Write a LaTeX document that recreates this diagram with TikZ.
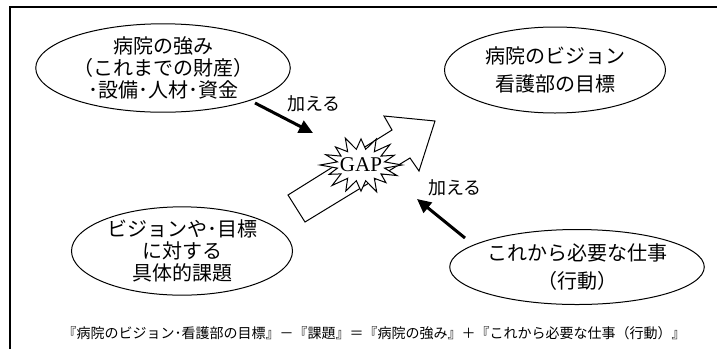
\documentclass[tikz,border=0pt]{standalone}
\usepackage{fontspec}
\setmainfont{Liberation Serif}
\newfontfamily\jp{Noto Sans CJK JP}
\usetikzlibrary{shapes.geometric,arrows.meta}

\tikzset{
  goal/.style={draw, ellipse, line width=1pt, inner sep=0pt, align=center,
    font=\jp\fontsize{20}{22}\selectfont},
  addarrow/.style={line width=3pt, -{Triangle[length=14pt,width=13pt]}},
  addlabel/.style={font=\jp\fontsize{18}{20}\selectfont},
}

\begin{document}
\begin{tikzpicture}[x=1pt,y=-1pt]
    \useasboundingbox (0,0) rectangle (717,349);

    % --- Frame (only left and top edges show) ---
    \draw[line width=1.5pt] (10,349) -- (10,7) -- (717,7);

    % --- Ellipses ---
    \node[goal, minimum width=222pt, minimum height=83pt] (strength) at (163,68)
        {病院の強み\\（これまでの財産）\\･設備･人材･資金};
    \node[goal, minimum width=221pt, minimum height=86pt,
          font=\jp\fontsize{20}{28}\selectfont] (vision) at (555,70)
        {病院のビジョン\\看護部の目標};
    \node[goal, minimum width=221pt, minimum height=87pt] (issue) at (182,251)
        {ビジョンや･目標\\に対する\\具体的課題};
    \node[goal, minimum width=227pt, minimum height=75pt,
          font=\jp\fontsize{20}{28}\selectfont] (work) at (577,267)
        {これから必要な仕事\\（行動）};

    % --- Hollow arrow behind the GAP burst ---
    \coordinate (tA) at (288,195);
    \coordinate (tB) at (305,222);
    \coordinate (sC) at (410,158);
    \coordinate (sD) at (392,130);
    \coordinate (hE) at (419,171);
    \coordinate (hF) at (384,116);
    \coordinate (hT) at (435,121);
    \draw[line width=1pt, fill=white, line join=miter]
        (tA) -- (sD) -- (hF) -- (hT) -- (hE) -- (sC) -- (tB) -- cycle;

    % --- GAP burst (16 spikes, uneven lengths) ---
    \begin{scope}[shift={(361,165)}]
        \draw[line width=1pt, fill=white, line join=miter, miter limit=20]
            (41,0)
            \foreach \k/\r in {1/0.95,2/0.86,3/1.0,4/0.9,5/0.97,6/1.0,7/0.84,
                               8/1.0,9/0.93,10/0.88,11/1.0,12/0.9,13/0.97,14/1.0,15/0.88} {
              -- ({24*cos(\k*22.5-11.25)},{16*sin(\k*22.5-11.25)})
              -- ({\r*41*cos(\k*22.5)},{\r*29*sin(\k*22.5)})
            }
            -- ({24*cos(348.75)},{16*sin(348.75)}) -- cycle;
        \node[font=\fontsize{21}{21}\selectfont, inner sep=0pt] (gap) at (0,0) {GAP};
    \end{scope}

    % --- "add" arrows ---
    \coordinate (a1s) at (255,103);
    \coordinate (a1e) at (313,133);
    \coordinate (a2s) at (465,238);
    \coordinate (a2e) at (417,199);
    \draw[addarrow] (a1s) -- (a1e);
    \draw[addarrow] (a2s) -- (a2e);
    \node[addlabel] (add1) at (314,104) {加える};
    \node[addlabel] (add2) at (455,188) {加える};

    % --- Formula ---
    \node[font=\jp\fontsize{14}{16}\selectfont] (formula) at (374,333)
        {『病院のビジョン･看護部の目標』－『課題』＝『病院の強み』＋『これから必要な仕事（行動）』};
\end{tikzpicture}
\end{document}
